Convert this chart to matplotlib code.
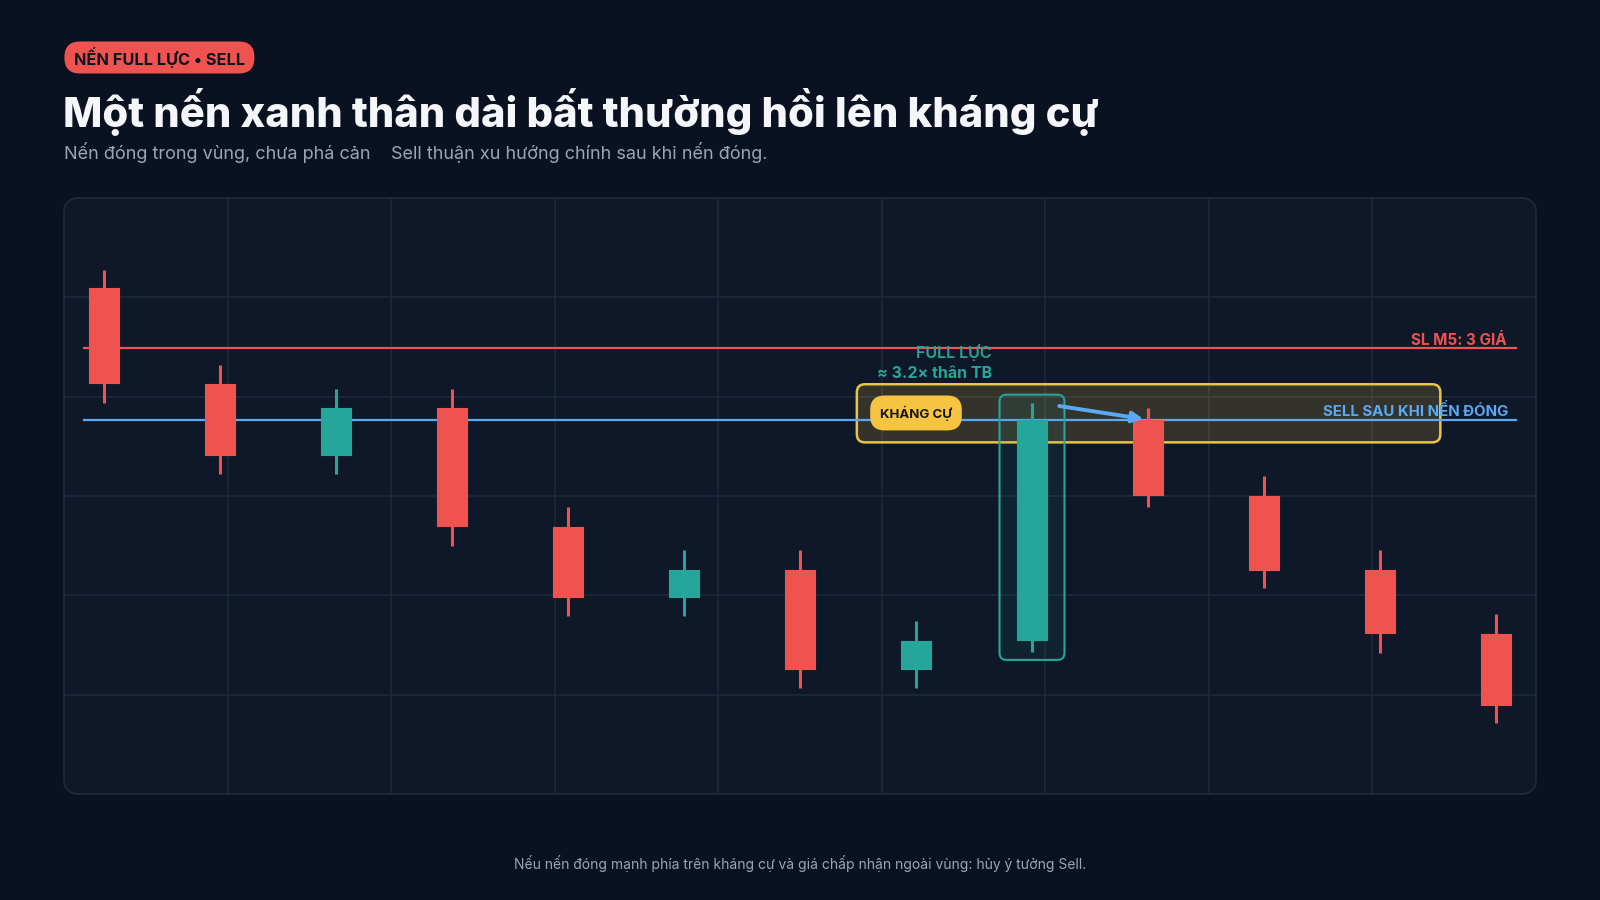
import matplotlib
matplotlib.use("Agg")
import matplotlib.pyplot as plt
from matplotlib.patches import FancyBboxPatch

plt.rcParams['font.family'] = ['Inter', 'DejaVu Sans']

# candle data (price units, panel 0..60)
opens = [50.9, 41.3, 34.1, 38.9, 26.9, 19.8, 22.6, 12.6, 15.5, 37.7, 30.0, 22.6, 16.1]
closes = [41.4, 34.1, 38.9, 27.0, 19.8, 22.6, 12.6, 15.4, 37.7, 30.1, 22.6, 16.2, 9.0]
highs = [52.8, 43.2, 40.8, 40.8, 28.9, 24.6, 24.6, 17.4, 39.4, 38.9, 32.0, 24.6, 18.1]
lows = [39.4, 32.2, 32.2, 25.0, 17.9, 17.9, 10.7, 10.7, 14.3, 28.9, 20.7, 14.2, 7.1]

sl_level = 44.9
entry_level = 37.7
zone_low, zone_high = 35.4, 41.25
zone_x = (6.49, 11.52)
full_idx = 8

badge_text = " NẾN FULL LỰC • SELL "
title = "Một nến xanh thân dài bất thường hồi lên kháng cự"
subtitle = "Nến đóng trong vùng, chưa phá cản    Sell thuận xu hướng chính sau khi nến đóng."
footer = "Nếu nến đóng mạnh phía trên kháng cự và giá chấp nhận ngoài vùng: hủy ý tưởng Sell."

BG = '#0a1120'
PANEL = '#0e1828'
GRID = '#1d2a3b'
RED = '#ef5350'
TEAL = '#26a69a'
BLUE = '#5aa9f5'
YELLOW = '#f5c542'
MUTED = '#9aa5b8'

W, H = 1600, 900
fig = plt.figure(figsize=(16, 9), dpi=100, facecolor=BG)

# overlay in pixel coords for header / panel
bg = fig.add_axes([0, 0, 1, 1], zorder=0)
bg.set_xlim(0, W)
bg.set_ylim(H, 0)
bg.axis('off')

px0, py0, px1, py1 = 64, 198, 1536, 794
bg.add_patch(FancyBboxPatch((px0, py0), px1 - px0, py1 - py0,
                            boxstyle='round,pad=0,rounding_size=15',
                            facecolor=PANEL, edgecolor='#1f2b3d', lw=1.2))

bg.text(70, 57.5, badge_text, fontsize=11.8, fontweight='bold', color='#0b1220',
        va='center', ha='left',
        bbox=dict(boxstyle='round,pad=0.34,rounding_size=0.95', facecolor=RED, edgecolor='none'))
bg.text(63, 127, title, fontsize=30, fontweight='heavy', color='#f4f6fa', va='baseline', ha='left')
bg.text(64, 159, subtitle, fontsize=13, color=MUTED, va='baseline', ha='left')
bg.text(800, 863, footer, fontsize=10, color=MUTED, va='center', ha='center')

# main chart axes over the panel
ax = fig.add_axes([px0 / W, 1 - py1 / H, (px1 - px0) / W, (py1 - py0) / H], zorder=1)
ax.set_facecolor('none')
step = 116.0
x_lo = -40 / step
x_hi = (px1 - px0 - 40) / step
ax.set_xlim(x_lo, x_hi)
ax.set_ylim(0, 60)
for s in ax.spines.values():
    s.set_visible(False)
ax.set_xticks([x_lo + k * (x_hi - x_lo) / 9 for k in range(1, 9)])
ax.set_yticks([10, 20, 30, 40, 50])
ax.tick_params(length=0, labelbottom=False, labelleft=False)
ax.grid(True, color=GRID, lw=1.2)
ax.set_axisbelow(True)

body_w = 30 / step
xs = list(range(len(opens)))

# resistance zone
ax.add_patch(FancyBboxPatch((zone_x[0], zone_low), zone_x[1] - zone_x[0], zone_high - zone_low,
                            boxstyle='round,pad=0,rounding_size=0.07',
                            mutation_aspect=step / 9.933,
                            facecolor=(245 / 255, 197 / 255, 66 / 255, 0.16),
                            edgecolor='#e8c547', lw=1.8, zorder=2))

# levels
ax.plot([-20 / step, x_hi - 20 / step], [sl_level, sl_level], color=RED, lw=1.6, zorder=3)
ax.plot([-20 / step, x_hi - 20 / step], [entry_level, entry_level], color=BLUE, lw=1.6, zorder=3)

# highlight box around full candle
ax.add_patch(FancyBboxPatch((full_idx - 0.28, lows[full_idx] - 0.8), 0.56,
                            highs[full_idx] - lows[full_idx] + 1.6,
                            boxstyle='round,pad=0,rounding_size=0.06',
                            mutation_aspect=step / 9.933,
                            facecolor=(38 / 255, 166 / 255, 154 / 255, 0.08),
                            edgecolor=TEAL, lw=1.5, zorder=4))

# candles
for i in xs:
    c = TEAL if closes[i] >= opens[i] else RED
    ax.plot([i, i], [lows[i], highs[i]], color=c, lw=2.2, zorder=5, solid_capstyle='butt')
    lo, hi = min(opens[i], closes[i]), max(opens[i], closes[i])
    ax.bar(i, hi - lo, bottom=lo, width=body_w, color=c, edgecolor=c, lw=0.8,
           joinstyle='round', zorder=6)

# labels
ax.text(x_hi - 29 / step, sl_level + 0.28, "SL M5: 3 GIÁ", color=RED, fontsize=11,
        fontweight='bold', ha='right', va='baseline', zorder=7)
ax.text(x_hi - 28 / step, entry_level + 0.33, "SELL SAU KHI NẾN ĐÓNG", color=BLUE, fontsize=10.8,
        fontweight='bold', ha='right', va='baseline', zorder=7)
ax.text(7.0, 38.36, "KHÁNG CỰ", color='#141414', fontsize=9.5, fontweight='bold',
        ha='center', va='center', zorder=8,
        bbox=dict(boxstyle='round,pad=0.75,rounding_size=1.1', facecolor=YELLOW, edgecolor='none'))
ax.text(7.655, 43.87, "FULL LỰC", color=TEAL, fontsize=11.5, fontweight='semibold',
        ha='right', va='baseline', zorder=7)
ax.text(7.655, 41.85, "≈ 3.2× thân TB", color=TEAL, fontsize=11.5, fontweight='bold',
        ha='right', va='baseline', zorder=7)

ax.annotate('', xy=(8.96, closes[full_idx] + 0.05), xytext=(8.235, 39.06),
            arrowprops=dict(arrowstyle='-|>', color=BLUE, lw=2.8, mutation_scale=16,
                            shrinkA=0, shrinkB=0), zorder=8)

fig.savefig('out.png', dpi=100, facecolor=BG)
